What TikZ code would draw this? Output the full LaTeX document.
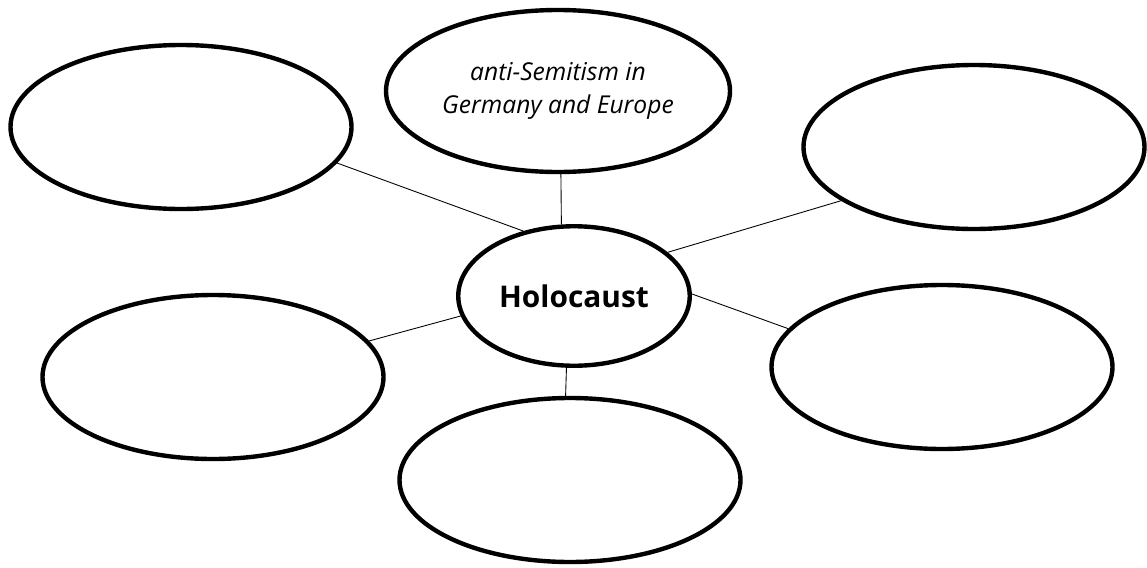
\documentclass[tikz,border=0pt]{standalone}
\usepackage{fontspec}
\usepackage{tikz}
\usetikzlibrary{shapes.geometric}
\newfontfamily\handfont{Open Sans}
\newfontfamily\hubfont{Open Sans}

\begin{document}
\begin{tikzpicture}[scale=1.0,
        bubble/.style={ellipse,draw,line width=2.5pt,inner sep=0pt,minimum width=6.82cm,minimum height=3.28cm},
        spoke/.style={line width=0.5pt}]
        \useasboundingbox (0,0) rectangle (22.94,-11.34);
        \node[bubble,minimum width=4.63cm,minimum height=2.79cm,font=\hubfont\bfseries\fontsize{17}{20}\selectfont] (hol) at (11.48,-5.92) {Holocaust};
        \node[bubble,minimum width=6.88cm,minimum height=3.24cm,align=center,font=\handfont\itshape\fontsize{14}{19}\selectfont] (antisem) at (11.16,-1.82) {anti-Semitism in\\Germany and Europe};
        \node[bubble] (topleft) at (3.62,-2.54) {};
        \node[bubble] (topright) at (19.48,-2.94) {};
        \node[bubble] (midleft) at (4.26,-7.54) {};
        \node[bubble] (midright) at (18.84,-7.34) {};
        \node[bubble] (bottom) at (11.4,-9.6) {};
        \draw[spoke] (antisem.-88) -- (hol.100);
        \draw[spoke] (topleft.-13) -- (hol.128);
        \draw[spoke] (topright.-158) -- (hol.25);
        \draw[spoke] (midleft.13) -- (hol.-170);
        \draw[spoke] (midright.166) -- (hol.1);
        \draw[spoke] (bottom.93) -- (hol.-96);
    \end{tikzpicture}
\end{document}
